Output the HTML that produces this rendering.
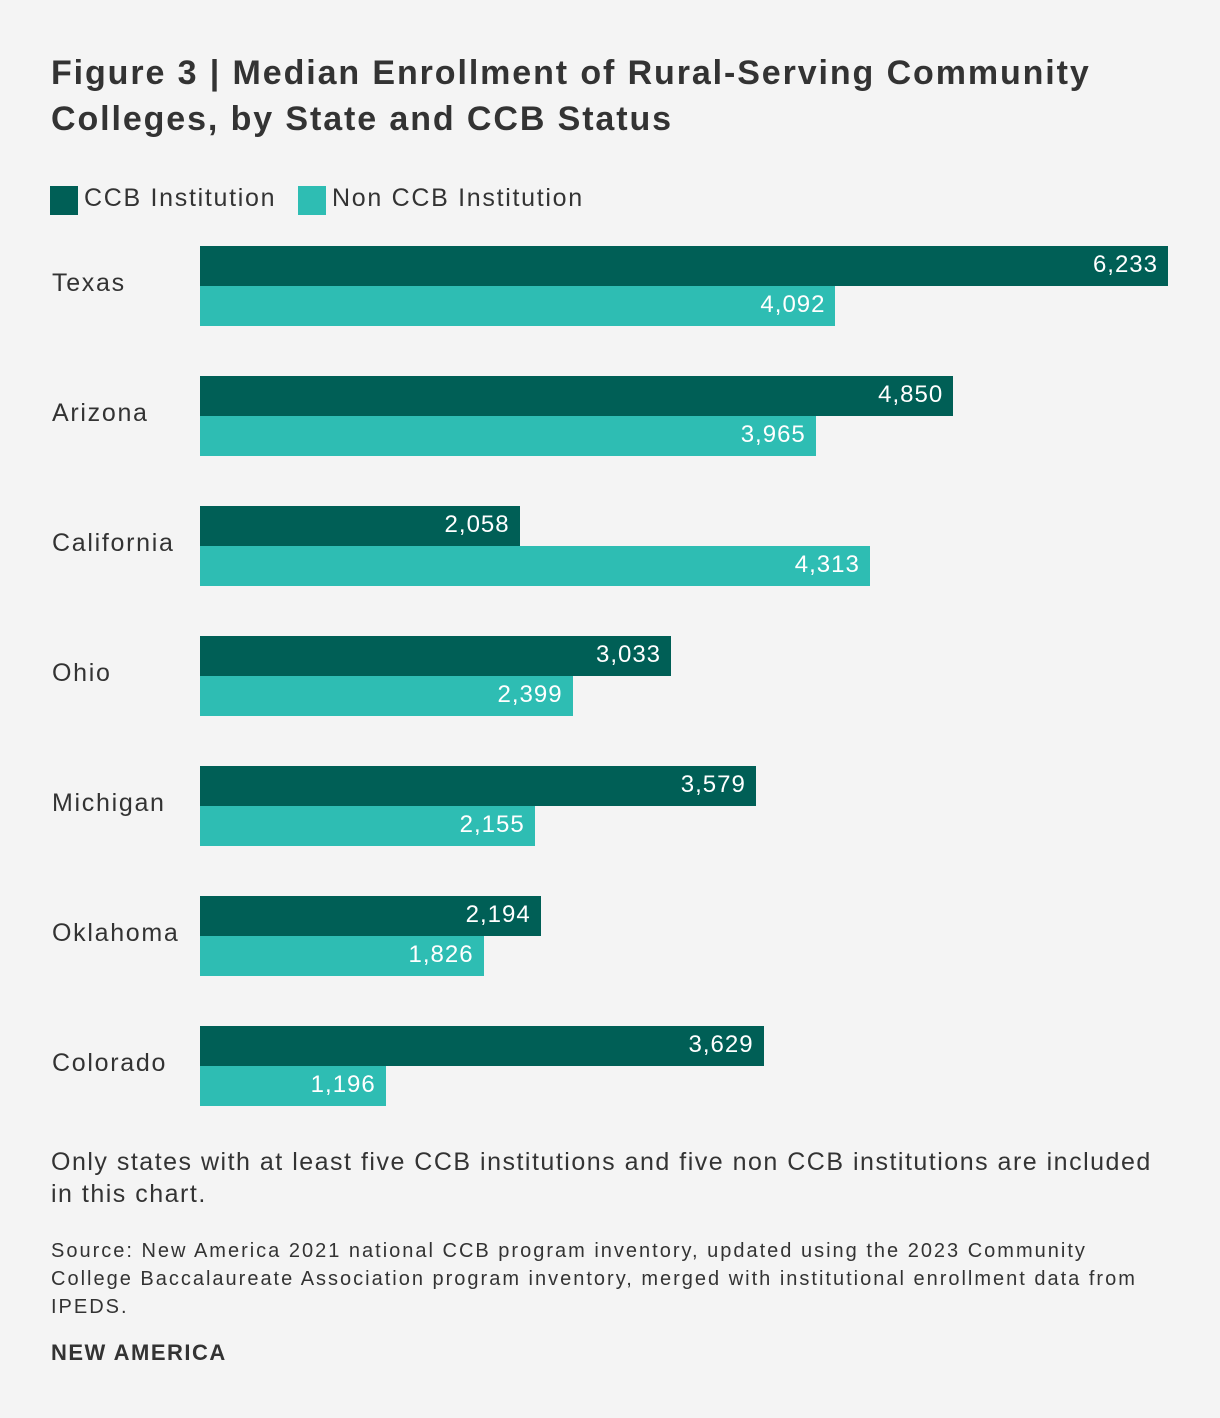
<!DOCTYPE html>
<html><head><meta charset="utf-8"><style>
body{margin:0;background:#f4f4f4;}
#page{position:relative;width:1220px;height:1418px;background:#f4f4f4;font-family:"Liberation Sans",sans-serif;color:#333;overflow:hidden}
.t{position:absolute;white-space:nowrap}
</style></head><body>
<div id="page">
<div class="t" style="left:51px;top:50px;font-size:34px;font-weight:bold;line-height:46px;letter-spacing:1.9px;color:#333">Figure 3 | Median Enrollment of Rural-Serving Community<br>Colleges, by State and CCB Status</div>
<div>
<div style="position:absolute;left:50px;top:186px;width:28px;height:29px;background:#005f56"></div>
<div class="t" style="left:84px;top:184px;font-size:25px;letter-spacing:1.7px">CCB Institution</div>
<div style="position:absolute;left:298px;top:186px;width:28px;height:29px;background:#2ebdb3"></div>
<div class="t" style="left:332px;top:184px;font-size:25px;letter-spacing:1.7px">Non CCB Institution</div>
</div>
<div id="chart"></div>
<div class="t" style="left:51px;top:1146px;font-size:25px;line-height:32px;letter-spacing:1.5px;color:#333">Only states with at least five CCB institutions and five non CCB institutions are included<br>in this chart.</div>
<div class="t" style="left:51px;top:1237px;font-size:20px;line-height:28px;letter-spacing:2px;color:#333">Source: New America 2021 national CCB program inventory, updated using the 2023 Community<br>College Baccalaureate Association program inventory, merged with institutional enrollment data from<br>IPEDS.</div>
<div class="t" style="left:51px;top:1340px;font-size:22px;font-weight:bold;letter-spacing:1.5px;color:#333">NEW AMERICA</div>
</div>
<script>
const states=["Texas","Arizona","California","Ohio","Michigan","Oklahoma","Colorado"];
const ccb=[6233,4850,2058,3033,3579,2194,3629];
const nonCcb=[4092,3965,4313,2399,2155,1826,1196];
const x0=200, xMax=6233, wMax=968, y0=246, pitch=130, bh=40;
function xs(v){return v/xMax*wMax;}
const page=document.getElementById('page');
function bar(v,top,color,name){
  const b=document.createElement('div');
  
  
  b.style.cssText=`position:absolute;left:${x0}px;top:${top}px;width:${xs(v)}px;height:${bh}px;background:${color};`;
  const l=document.createElement('div');
  
  
  l.textContent=v.toLocaleString('en-US');
  l.style.cssText=`position:absolute;right:10px;top:-1px;line-height:${bh}px;font-size:24px;letter-spacing:1px;color:#fff;white-space:nowrap`;
  b.appendChild(l);
  page.appendChild(b);
}
states.forEach((s,i)=>{
  const top=y0+i*pitch;
  const lab=document.createElement('div');
  
  
  lab.className='t';
  lab.textContent=s;
  lab.style.cssText=`left:52px;top:${top-3}px;line-height:${2*bh}px;font-size:25px;letter-spacing:1.7px;color:#333`;
  page.appendChild(lab);
  bar(ccb[i],top,'#005f56','bar-ccb-'+s.toLowerCase());
  bar(nonCcb[i],top+bh,'#2ebdb3','bar-non-ccb-'+s.toLowerCase());
});
</script>
</body></html>
